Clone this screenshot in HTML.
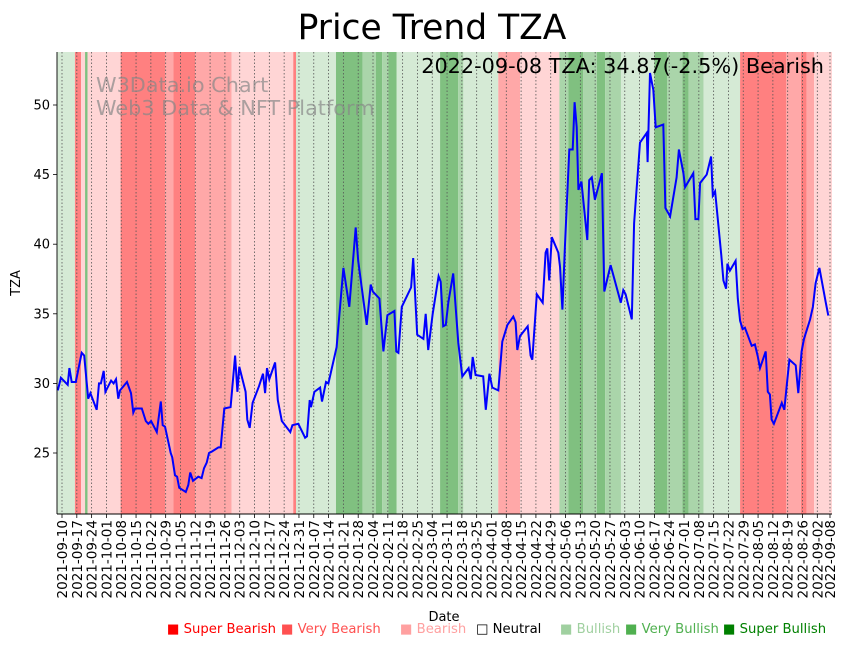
<!DOCTYPE html>
<html><head><meta charset="utf-8">
<style>
html,body{margin:0;padding:0;background:#fff;}
svg{display:block;font-family:"DejaVu Sans","Liberation Sans",sans-serif;}
</style></head>
<body>
<svg id="chart" width="851" height="646" viewBox="0 0 851 646">
<text x="432" y="39" font-size="34.5" text-anchor="middle">Price Trend TZA</text>
<g id="bands"></g>
<g id="grid"></g>
<g id="wm">
<text x="96" y="92" font-size="20.8" fill="#888" fill-opacity="0.7">W3Data.io Chart</text>
<text x="96" y="115" font-size="20.8" fill="#888" fill-opacity="0.7">Web3 Data &amp; NFT Platform</text>
</g>
<path id="line" fill="none" stroke="#0000ff" stroke-width="2"/>
<text x="824" y="73" font-size="20.8" text-anchor="end">2022-09-08 TZA: 34.87(-2.5%) Bearish</text>
<g id="axes"></g>
<text x="20" y="283" font-size="13" text-anchor="middle" transform="rotate(-90 20 283)">TZA</text>
<text x="444" y="621" font-size="13" text-anchor="middle">Date</text>
<g font-size="13.2">
<text x="167" y="633" fill="#ff0000">■ Super Bearish</text>
<text x="281" y="633" fill="#ff5050">■ Very Bearish</text>
<text x="400" y="633" fill="#ffa0a0">■ Bearish</text>
<text x="476" y="633" fill="#000">□ Neutral</text>
<text x="560" y="633" fill="#a0d0a0">■ Bullish</text>
<text x="625" y="633" fill="#50b050">■ Very Bullish</text>
<text x="723" y="633" fill="#008000">■ Super Bullish</text>
</g>
</svg>
<script>
// days since 2021-09-10
const days=[-2,-0.5,2.7,3.5,4.6,6.5,9.3,10.5,12.4,13.4,16.4,17.5,18.4,19.7,20.5,23.2,24.4,25.5,26.6,27.4,30.7,32.6,33.7,34.5,37.7,39.6,40.8,42.1,44.8,46.7,47.6,48.7,51.4,52.1,53.4,54.4,55.4,58.5,59.7,60.6,61.9,64.4,66,67.1,68.4,69.5,70.8,73.9,75,76.7,79.7,81.8,82.9,83.8,86.8,87.6,88.7,90.1,93.1,95,96,96.9,98,100.7,102,103.9,107.9,108.9,111.7,114.9,115.8,117.1,117.7,119.3,122,122.9,124.8,125.9,129.8,133,135.8,138.8,140,144,145.9,146.9,150,151.9,153.8,157.1,158,159,160.6,165,166,167.9,170.8,171.9,173.1,175.2,178,179,180.2,181.4,182.6,184.9,187.3,189.2,192.2,193.2,194.1,195.5,199.1,200.3,202,203.4,206.2,208.1,210.5,213.3,214.4,215.2,216.5,220.1,221.5,222.3,224.4,227.2,228.6,229.4,230.3,231.5,234.6,235.4,236.5,237.7,239.8,241.4,242.3,243.3,244.1,245.5,248.3,249.2,250.4,251.9,255.2,256.3,259.3,264.1,265.3,266.4,269.3,270.4,273.2,276.4,276.8,277.9,279.5,280.6,284.2,285.2,287.4,290.5,291.6,293.7,294.5,298.4,299.4,300.8,301.6,304.7,306.8,307.6,308.7,311.6,312.6,313.9,314.5,315.7,318.4,319.4,320.5,321.7,322.8,326,327.5,328.8,329.9,332.6,333.6,334.6,335.4,336.5,340.2,341.4,342.6,343.8,346.8,348,349.6,350.7,353.6,354.9,356.2,358,361,362.2,363];
const prices=[29.5,30.4,29.9,31.1,30.1,30.1,32.2,32.0,28.9,29.3,28.1,30.0,30.0,30.9,29.4,30.2,30.0,30.3,28.9,29.5,30.1,29.3,27.9,28.2,28.2,27.3,27.1,27.3,26.5,28.7,27.0,26.9,25.0,24.7,23.4,23.3,22.5,22.2,22.7,23.6,23.0,23.3,23.2,23.9,24.3,25.0,25.1,25.4,25.4,28.2,28.3,32.0,29.4,31.2,29.4,27.4,26.8,28.6,29.8,30.7,29.3,31.1,30.3,31.5,28.8,27.3,26.5,27.0,27.1,26.1,26.2,28.8,28.3,29.4,29.7,28.7,30.1,30.0,32.6,38.3,35.5,41.2,38.8,34.2,37.1,36.6,36.1,32.3,34.9,35.2,32.3,32.2,35.5,36.9,39.0,33.5,33.2,35.0,32.4,35.0,37.7,37.3,34.1,34.2,35.8,37.9,32.9,30.5,31.1,30.3,31.9,30.6,30.5,28.1,30.7,29.7,29.5,33.0,34.2,34.8,34.4,32.4,33.4,34.1,32.0,31.7,36.4,35.8,39.4,39.7,37.4,40.5,39.4,38.4,35.3,39.8,46.8,46.8,50.2,48.4,43.9,44.5,40.3,44.6,44.8,43.2,45.1,36.6,38.5,35.8,36.7,36.4,34.6,41.5,47.3,48.0,45.9,52.3,51.1,48.4,48.6,42.6,42.0,44.8,46.8,45.1,44.1,45.1,41.8,41.8,44.4,45.0,46.3,43.5,43.8,39.2,37.4,36.8,38.6,38.1,38.8,36.1,34.5,33.9,34.0,32.7,32.8,32.0,31.1,32.3,29.4,29.2,27.4,27.1,28.6,28.1,29.9,31.7,31.3,29.3,32.3,33.2,34.6,35.5,37.2,38.3,35.8,34.87];
// sentiment bands: start day, end day, level (-3..3)
const bandStart=[-2.4,6.1,9.0,10.9,12.1,27.7,48.7,52.6,62.9,80.2,109.3,110.6,129.5,142.1,148.4,151.3,154.2,158.2,178.7,187.3,189.7,206.2,216.5,235.1,239.3,246.4,252.8,256.7,264.2,280.0,286.1,293.2,296.1,303.2,320.5,342.2,349.2,352.0,355.5];
const bandEnd=[6.1,9.0,10.9,12.1,27.7,48.7,52.6,62.9,80.2,109.3,110.6,129.5,142.1,148.4,151.3,154.2,158.2,178.7,187.3,189.7,206.2,216.5,235.1,239.3,246.4,252.8,256.7,264.2,280.0,286.1,293.2,296.1,303.2,320.5,342.2,349.2,352.0,355.5,364.0];
const bandLevel=[1,-3,-1,3,-1,-3,-2,-3,-2,-1,-3,1,3,2,3,2,3,1,3,2,1,-2,-1,2,3,2,3,2,1,3,2,3,2,1,-3,-2,-3,-2,-1];
const yTicks=[25,30,35,40,45,50];
const tickDays=[0,7,14,21,28,35,42,49,56,63,70,77,84,91,98,105,112,119,126,133,140,147,154,161,168,175,182,189,196,203,210,217,224,231,238,245,252,259,266,273,280,287,294,301,308,315,322,329,336,343,350,357,363];

const NS="http://www.w3.org/2000/svg";
const L=57,R=832,T=52,B=514;
const x=d=>62+d*2.1157;
const y=p=>105+(50-p)*13.92;
function mk(tag,attrs,parent){const e=document.createElementNS(NS,tag);for(const k in attrs)e.setAttribute(k,attrs[k]);parent.appendChild(e);return e;}
const colors={"-3":"#ff8080","-2":"#ffa8a8","-1":"#ffd5d5","1":"#d5ead5","2":"#aad5aa","3":"#80c080"};
const bands=document.getElementById('bands');
for(let i=0;i<bandStart.length;i++){
  const a=Math.max(L,x(bandStart[i])),b=Math.min(R,x(bandEnd[i]));
  const r=mk('rect',{x:a,y:T,width:b-a,height:B-T,fill:colors[bandLevel[i]]},bands);
  
  
}
const grid=document.getElementById('grid'),axes=document.getElementById('axes');
const start=Date.UTC(2021,8,10);
tickDays.forEach(k=>{
  const xx=x(k);
  mk('line',{x1:xx,x2:xx,y1:T,y2:B,stroke:"#555","stroke-width":0.8,"stroke-dasharray":"1.5,2"},grid);
  mk('line',{x1:xx,x2:xx,y1:B,y2:B+4,stroke:"#000","stroke-width":0.8},axes);
  const s=new Date(start+k*86400000).toISOString().slice(0,10);
  const t=mk('text',{x:0,y:0,"font-size":13.5,"text-anchor":"end",transform:`translate(${xx+5},${B+6}) rotate(-90)`},axes);
  
  
  t.textContent=s;
});
yTicks.forEach(v=>{
  mk('line',{x1:L-4,x2:L,y1:y(v),y2:y(v),stroke:"#000","stroke-width":0.8},axes);
  const t=mk('text',{x:L-7,y:y(v)+4.5,"font-size":13,"text-anchor":"end"},axes);
  
  
  t.textContent=v;
});
mk('line',{x1:L,x2:L,y1:T,y2:B,stroke:"#000","stroke-width":0.9},axes);
mk('line',{x1:L,x2:R,y1:B,y2:B,stroke:"#000","stroke-width":0.9},axes);
let d="";
days.forEach((v,i)=>{d+=(i?"L":"M")+x(v).toFixed(1)+","+y(prices[i]).toFixed(1);});
document.getElementById('line').setAttribute('d',d);
</script>
</body></html>
